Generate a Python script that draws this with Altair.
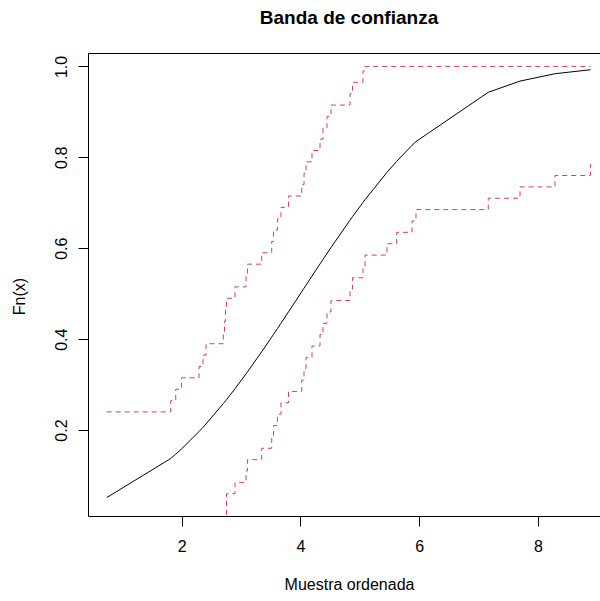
import altair as alt
import pandas as pd

# Sorted sample (x) and the fitted normal CDF evaluated at each point
muestra = [0.739, 1.817, 1.901, 1.998, 2.293, 2.360, 2.411, 2.702, 2.722, 2.739,
           2.756, 2.899, 3.084, 3.109, 3.348, 3.517, 3.547, 3.614, 3.673, 3.800,
           4.022, 4.061, 4.094, 4.195, 4.330, 4.380, 4.448, 4.515, 4.835, 4.877,
           5.054, 5.088, 5.458, 5.621, 5.879, 5.946, 7.163, 7.697, 8.286, 8.884]
fn_teorica = [0.0515, 0.1375, 0.1470, 0.1584, 0.1967, 0.2061, 0.2135, 0.2582, 0.2614, 0.2642,
              0.2670, 0.2910, 0.3235, 0.3280, 0.3722, 0.4046, 0.4104, 0.4235, 0.4351, 0.4602,
              0.5044, 0.5122, 0.5187, 0.5388, 0.5655, 0.5753, 0.5886, 0.6016, 0.6618, 0.6695,
              0.7009, 0.7068, 0.7670, 0.7912, 0.8263, 0.8347, 0.9431, 0.9677, 0.9839, 0.9927]
# Upper and lower confidence band around the empirical CDF
banda_sup = [0.240, 0.265, 0.290, 0.315, 0.340, 0.365, 0.390, 0.415, 0.440, 0.465,
             0.490, 0.515, 0.540, 0.565, 0.590, 0.615, 0.640, 0.665, 0.690, 0.715,
             0.740, 0.765, 0.790, 0.815, 0.840, 0.865, 0.890, 0.915, 0.940, 0.965,
             0.990, 1.000, 1.000, 1.000, 1.000, 1.000, 1.000, 1.000, 1.000, 1.000]
banda_inf = [0.000, 0.000, 0.000, 0.000, 0.000, 0.000, 0.000, 0.000, 0.000, 0.000,
             0.060, 0.085, 0.110, 0.135, 0.160, 0.185, 0.210, 0.235, 0.260, 0.285,
             0.310, 0.335, 0.360, 0.385, 0.410, 0.435, 0.460, 0.485, 0.510, 0.535,
             0.560, 0.585, 0.610, 0.635, 0.660, 0.685, 0.710, 0.735, 0.760, 0.785]

ticks_x = [2, 4, 6, 8]
ticks_y = [0.2, 0.4, 0.6, 0.8, 1.0]

df = pd.DataFrame({"x": muestra, "fn": fn_teorica, "sup": banda_sup, "inf": banda_inf})

FONT = "Liberation Sans"
ROJO = "#DA3F5E"
DASH = [5, 4]

escala_x = alt.Scale(domain=[0.424, 9.044], nice=False, zero=False)
escala_y = alt.Scale(domain=[0.011, 1.0295], nice=False, zero=False)

eje_y = alt.Axis(
    values=ticks_y, format=".1f", grid=False,
    domainColor="black", domainWidth=1, tickColor="black", tickWidth=1, tickSize=10,
    labelAngle=270, labelAlign="center", labelBaseline="middle", labelPadding=17,
    labelFont=FONT, labelFontSize=16, labelColor="black",
    titleFont=FONT, titleFontSize=16, titleFontWeight="normal", titleColor="black",
    titleAngle=270, titleAlign="center", titleBaseline="middle",
    titleX=-69, titleY=243,
)

eje_x = alt.Axis(
    values=ticks_x, format="d", grid=False, orient="bottom",
    domainColor="black", domainWidth=1, tickColor="black", tickWidth=1, tickSize=10,
    labelBaseline="middle", labelPadding=20,
    labelFont=FONT, labelFontSize=16, labelColor="black",
    titleFont=FONT, titleFontSize=16, titleFontWeight="normal", titleColor="black",
    titleAlign="center", titleBaseline="middle", titleX=261, titleY=68,
)

# top edge of the plot frame
eje_x_sup = alt.Axis(
    orient="top", labels=False, ticks=False, grid=False,
    domainColor="black", domainWidth=1,
)

base = alt.Chart(df)

curva = base.mark_line(color="black", strokeWidth=1, clip=True).encode(
    x=alt.X("x:Q", scale=escala_x, axis=eje_x, title="Muestra ordenada"),
    y=alt.Y("fn:Q", scale=escala_y, axis=eje_y, title="Fn(x)"),
)

superior = base.mark_line(
    color=ROJO, strokeWidth=1, strokeDash=DASH, interpolate="step-after", clip=True
).encode(
    x=alt.X("x:Q", scale=escala_x, axis=eje_x_sup, title=""),
    y=alt.Y("sup:Q", scale=escala_y, axis=eje_y, title="Fn(x)"),
)

inferior = base.mark_line(
    color=ROJO, strokeWidth=1, strokeDash=DASH, interpolate="step-after", clip=True
).encode(
    x=alt.X("x:Q", scale=escala_x, axis=None),
    y=alt.Y("inf:Q", scale=escala_y, axis=eje_y, title="Fn(x)"),
)

chart = (
    alt.layer(curva, superior, inferior)
    .resolve_axis(x="independent")
    .properties(
        width=512,
        height=463,
        autosize=alt.AutoSizeParams(type="none"),
        padding={"left": 88, "top": 53, "right": 0, "bottom": 85},
        background="white",
        title=alt.TitleParams(
            text="Banda de confianza", font=FONT, fontSize=19, fontWeight="bold",
            color="black", anchor="middle", dx=5, offset=10, baseline="alphabetic",
        ),
    )
    .configure_view(stroke=None)
)

chart.save("out.html", embed_options={"renderer": "svg", "actions": False})
